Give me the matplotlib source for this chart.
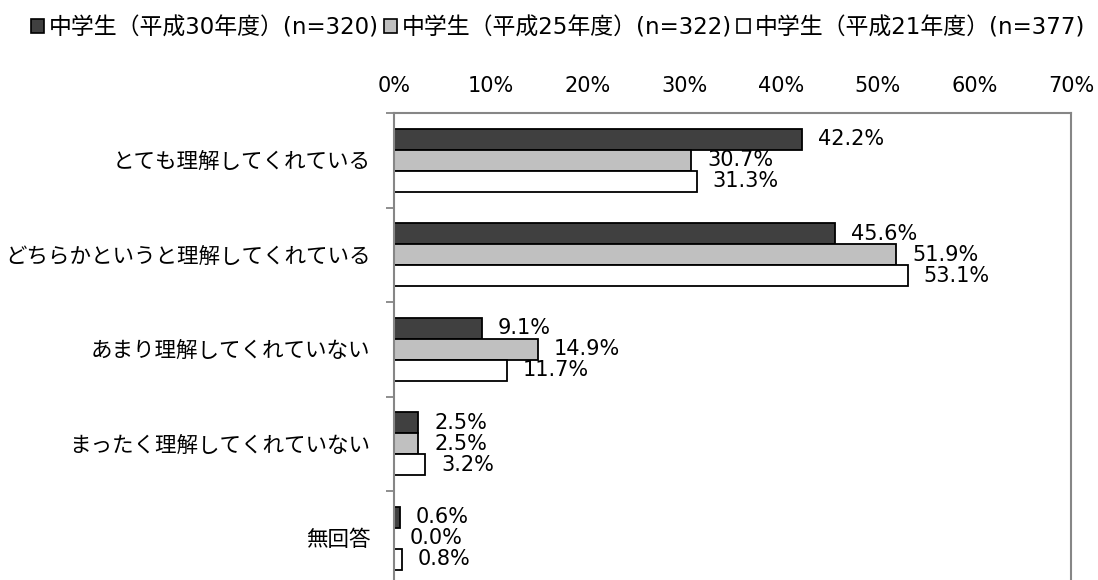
import matplotlib.pyplot as plt
import numpy as np
from matplotlib.patches import Patch

plt.rcParams["font.family"] = ["DejaVu Sans", "Noto Sans CJK JP"]
plt.rcParams["font.size"] = 15

categories = [
    "とても理解してくれている",
    "どちらかというと理解してくれている",
    "あまり理解してくれていない",
    "まったく理解してくれていない",
    "無回答",
]
series_names = [
    "中学生（平成30年度）(n=320)",
    "中学生（平成25年度）(n=322)",
    "中学生（平成21年度）(n=377)",
]
h30 = [42.2, 45.6, 9.1, 2.5, 0.6]
h25 = [30.7, 51.9, 14.9, 2.5, 0.0]
h21 = [31.3, 53.1, 11.7, 3.2, 0.8]
xticks = [0, 10, 20, 30, 40, 50, 60, 70]

colors = ["#404040", "#c0c0c0", "#ffffff"]
spine_gray = "#868686"

fig = plt.figure(figsize=(10.98, 5.80), dpi=100)
ax = fig.add_axes([394 / 1098, (580 - 585.5) / 580, (1071 - 394) / 1098, 472.5 / 580])

y = np.arange(len(categories))
bar_h = 0.222
for i, (vals, col) in enumerate(zip([h30, h25, h21], colors)):
    pos = y + (i - 1) * bar_h
    ax.barh(pos, vals, height=bar_h, color=col, edgecolor="black", linewidth=1.3)
    for p, v in zip(pos, vals):
        ax.annotate(f"{v:.1f}%", (v, p), xytext=(11.5, 0), textcoords="offset points",
                    ha="left", va="center", fontsize=15)

ax.set_xlim(0, 70)
ax.set_ylim(4.5, -0.5)
ax.xaxis.tick_top()
ax.set_xticks(xticks)
ax.set_xticklabels([f"{t}%" for t in xticks])
ax.tick_params(axis="x", length=0, pad=12)
ax.set_yticks(y)
ax.set_yticklabels(categories, fontsize=15.5)
ax.tick_params(axis="y", which="major", length=0, pad=17)
ax.set_yticks(np.arange(-0.5, 5.0, 1.0), minor=True)
ax.tick_params(axis="y", which="minor", length=6, width=1.3, color=spine_gray)

for s in ["left", "top", "right"]:
    ax.spines[s].set_color(spine_gray)
    ax.spines[s].set_linewidth(1.5)
ax.spines["bottom"].set_visible(False)

handles = [Patch(facecolor=c, edgecolor="black", linewidth=1.2) for c in colors]
fig.legend(handles, series_names, loc="center", bbox_to_anchor=(558 / 1098, 1 - 28 / 580),
           ncol=3, frameon=False, fontsize=16.5, handlelength=0.55, handleheight=0.55,
           handletextpad=0.2, columnspacing=0.25, borderpad=0)

fig.savefig("out.png", dpi=100)
